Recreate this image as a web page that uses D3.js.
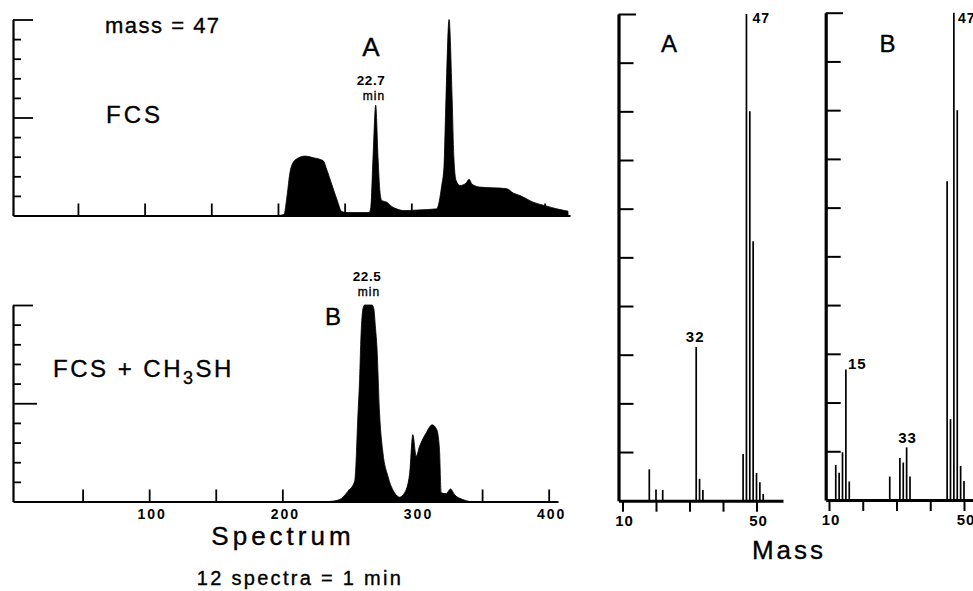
<!DOCTYPE html>
<html>
<head>
<meta charset="utf-8">
<script src="https://cdn.jsdelivr.net/npm/d3@7"></script>
<style>
  body { margin: 0; background: #fff; }
  svg { display: block; font-family: "Liberation Sans", Arial, Helvetica, sans-serif; }
</style>
</head>
<body>
<svg id="chart" width="973" height="591"></svg>
<script>
// mass 47 ion trace, FCS alone: [spectrum number, intensity in axis divisions 0-10]
let fcsTrace = [
  [200, 0], [204.5, 0.05], [206.8, 1.0], [209, 2.2], [211, 2.66], [214.3, 2.9],
  [220.3, 3.03], [226.3, 2.95], [233.8, 2.8], [236.8, 2.3], [240.3, 1.6],
  [244.3, 0.8], [247.8, 0.2], [251.8, 0.15], [268.3, 0.15], [269.6, 0.4],
  [271.3, 3.0], [273.3, 5.63], [275, 3.0], [276.5, 1.2], [277.8, 0.77],
  [281.6, 0.68], [285.5, 0.45], [289, 0.34], [294.5, 0.25], [305, 0.28],
  [319, 0.34], [322.8, 1.53], [324.5, 2.5], [326, 6], [328.3, 10], [330.6, 6],
  [331.9, 3.0], [333.5, 1.8], [336.5, 1.53], [341, 1.65], [343.3, 1.85],
  [345.5, 1.6], [351.5, 1.45], [371.5, 1.37], [376.3, 1.15], [381.5, 1.02],
  [391.3, 0.68], [400.3, 0.5], [409, 0.34], [417.5, 0.22]
];
// mass 47 ion trace, FCS + CH3SH
let mixTrace = [
  [235.5, 0], [243, 0.1], [249, 0.5], [254.3, 1.03], [255.2, 1.8], [256.5, 4.0],
  [258, 6.2], [259.1, 8.5], [260.5, 9.8], [261.8, 10], [267.4, 10], [268.7, 9.8],
  [270, 8.8], [271, 7.9], [273, 4.5], [275.5, 2.5], [279.2, 1.3], [284.3, 0.44],
  [288, 0.22], [291.8, 0.44], [295.5, 1.37], [298, 3.4], [300.5, 2.3], [303, 2.8],
  [308, 3.49], [312.5, 3.9], [316, 3.65], [318, 2.64], [319.3, 0.44], [323, 0.4],
  [326.3, 0.64], [329.3, 0.35], [335.5, 0.1], [340.5, 0]
];
let spectrumTicks = [50, 100, 150, 200, 250, 300, 350, 400];
let spectrumLabels = [100, 200, 300, 400];

// mass spectra (mass, intensity in axis divisions 0-10)
let massesA = [18, 20, 22, 32, 33, 34, 46, 47, 48, 49, 50, 51, 52];
let intensA = [0.645, 0.23, 0.22, 3.16, 0.45, 0.22, 0.96, 10, 8.0, 5.33, 0.57, 0.38, 0.14];
let massesB = [12, 13, 14, 15, 16, 28, 31, 32, 33, 34, 45, 46, 47, 48, 49, 50];
let intensB = [0.72, 0.56, 0.98, 2.68, 0.38, 0.48, 0.86, 0.77, 1.08, 0.48, 6.54, 1.66, 10, 8.0, 0.7, 0.39];
let massTicks = [10, 20, 30, 40, 50];
let massLabels = [10, 50];
let divisions = d3.range(1, 11);

const svg = d3.select("#chart");

// ---------- chromatogram panels ----------
function chromPanel(trace, top, base, xDomain, xRange, longTick) {
  var x = d3.scaleLinear().domain(xDomain).range(xRange);
  var y = d3.scaleLinear().domain([0, 10]).range([base, top]);
  var g = svg.append("g");

  g.append("path")
    .datum(trace)
    .attr("fill", "#000")
    .attr("stroke", "#000")
    .attr("stroke-width", 0.8)
    .attr("d", d3.area()
      .x(function (d) { return x(d[0]); })
      .y0(base)
      .y1(function (d) { return y(d[1]); })
      .curve(d3.curveMonotoneX));

  // x axis, ticks pointing up
  var xa = g.append("g")
    .attr("transform", "translate(0," + base + ")")
    .call(d3.axisTop(x).tickValues(spectrumTicks).tickSize(12).tickSizeOuter(0).tickFormat(""));
  xa.select(".domain").attr("stroke-width", 2.2);
  xa.selectAll(".tick line").attr("stroke-width", 1.8);

  // y axis, ticks pointing right
  var ya = g.append("g")
    .attr("transform", "translate(" + xRange[0] + ",0)")
    .call(d3.axisRight(y).tickValues(divisions).tickSize(8).tickSizeOuter(0).tickFormat(""));
  ya.select(".domain").attr("stroke-width", 2.2);
  ya.selectAll(".tick line")
    .attr("stroke-width", 1.8)
    .attr("x2", function (d) { return d === 10 ? 20 : d === 5 ? longTick : 8; });
  return x;
}

var xTop = chromPanel(fcsTrace, 19.5, 215.5, [1.3, 419], [13, 570], 20);
var xBot = chromPanel(mixTrace, 305, 501.5, [-2.25, 407], [13, 558], 24);

// spectrum number labels
svg.append("g")
  .selectAll("text")
  .data(spectrumLabels)
  .join("text")
  .attr("x", function (d) { return xBot(d) + 3; })
  .attr("y", 519)
  .attr("text-anchor", "middle")
  .attr("font-size", 14)
  .attr("font-weight", "bold")
  .attr("letter-spacing", 2)
  .text(function (d) { return d; });

function label(x, y, txt, size, opts) {
  opts = opts || {};
  return svg.append("text")
    .attr("x", x).attr("y", y)
    .attr("font-size", size)
    .attr("text-anchor", opts.anchor || "start")
    .attr("font-weight", opts.bold ? "bold" : "normal")
    .attr("letter-spacing", opts.ls || 0)
    .attr("stroke", opts.bold ? "none" : "#000")
    .attr("stroke-width", opts.bold ? 0 : 0.35)
    .text(txt);
}

label(105, 33, "mass = 47", 22, { ls: 1.5 });
label(106, 123, "FCS", 24, { ls: 3 });
label(371, 56, "A", 26, { anchor: "middle" });
label(371, 84.5, "22.7", 13.5, { anchor: "middle", bold: true, ls: 0.5 });
label(374, 99.5, "min", 12, { anchor: "middle", ls: 1 });

var mix = svg.append("text").attr("x", 53).attr("y", 377)
  .attr("font-size", 24).attr("letter-spacing", 2.5)
  .attr("stroke", "#000").attr("stroke-width", 0.35);
mix.append("tspan").text("FCS + CH");
mix.append("tspan").attr("dy", 7).attr("font-size", 18).text("3");
mix.append("tspan").attr("dy", -7).text("SH");

label(333, 325, "B", 24, { anchor: "middle" });
label(367, 280.5, "22.5", 13.5, { anchor: "middle", bold: true, ls: 0.5 });
label(369, 295.5, "min", 12, { anchor: "middle", ls: 1 });

label(283, 545, "Spectrum", 26, { anchor: "middle", ls: 4 });
label(300, 585, "12 spectra = 1 min", 20, { anchor: "middle", ls: 2.3 });

// ---------- mass spectrum panels ----------
function massPanel(masses, intens, axisX, top, base, xDomain, xRange, bracketEnd) {
  var x = d3.scaleLinear().domain(xDomain).range(xRange);
  var y = d3.scaleLinear().domain([0, 10]).range([base, top]);
  var g = svg.append("g");

  g.selectAll("line.peak")
    .data(masses)
    .join("line")
    .attr("class", "peak")
    .attr("x1", function (d) { return x(d); })
    .attr("x2", function (d) { return x(d); })
    .attr("y1", base)
    .attr("y2", function (d, i) { return y(intens[i]); })
    .attr("stroke", "#000")
    .attr("stroke-width", 1.7);

  // baseline with ticks pointing down
  var full = x.copy().domain([x.invert(axisX), x.invert(xRange[2])]).range([axisX, xRange[2]]);
  var xa = g.append("g")
    .attr("transform", "translate(0," + base + ")")
    .call(d3.axisBottom(full).tickValues(massTicks).tickSize(11).tickSizeOuter(0).tickFormat(""));
  xa.select(".domain").attr("stroke-width", 3);
  xa.selectAll(".tick line").attr("stroke-width", 2);

  xa.selectAll(".lbl")
    .data(massLabels)
    .join("text")
    .attr("class", "lbl")
    .attr("x", function (d) { return x(d) + 2; })
    .attr("y", 25)
    .attr("text-anchor", "middle")
    .attr("font-size", 15)
    .attr("font-weight", "bold")
    .attr("letter-spacing", 1)
    .attr("fill", "#000")
    .text(function (d) { return d; });

  var ya = g.append("g")
    .attr("transform", "translate(" + axisX + ",0)")
    .call(d3.axisRight(y).tickValues(divisions).tickSize(15).tickSizeOuter(0).tickFormat(""));
  ya.select(".domain").attr("stroke-width", 3.2);
  ya.selectAll(".tick line")
    .attr("stroke-width", 2)
    .attr("x2", function (d) { return d === 10 ? bracketEnd - axisX : 15; });
  return { x: x, y: y };
}

var pA = massPanel(massesA, intensA, 618.5, 14, 500.7, [10, 50], [622.5, 756.5, 783], 636);
var pB = massPanel(massesB, intensB, 825.7, 12.7, 500, [10, 50], [829, 964, 975], 843);

label(669, 52, "A", 24, { anchor: "middle" });
label(887.5, 52, "B", 24, { anchor: "middle" });
label(pA.x(47) + 6, 23, "47", 14, { bold: true, ls: 1 });
label(pB.x(47) + 4, 23, "47", 14, { bold: true, ls: 1 });
label(pA.x(32) - 1, 342, "32", 15, { anchor: "middle", bold: true, ls: 1 });
label(pB.x(15) + 2, 369, "15", 15, { bold: true, ls: 1 });
label(pB.x(33) + 1, 443, "33", 15, { anchor: "middle", bold: true, ls: 1 });

label(789, 559, "Mass", 26, { anchor: "middle", ls: 3 });
</script>
</body>
</html>
